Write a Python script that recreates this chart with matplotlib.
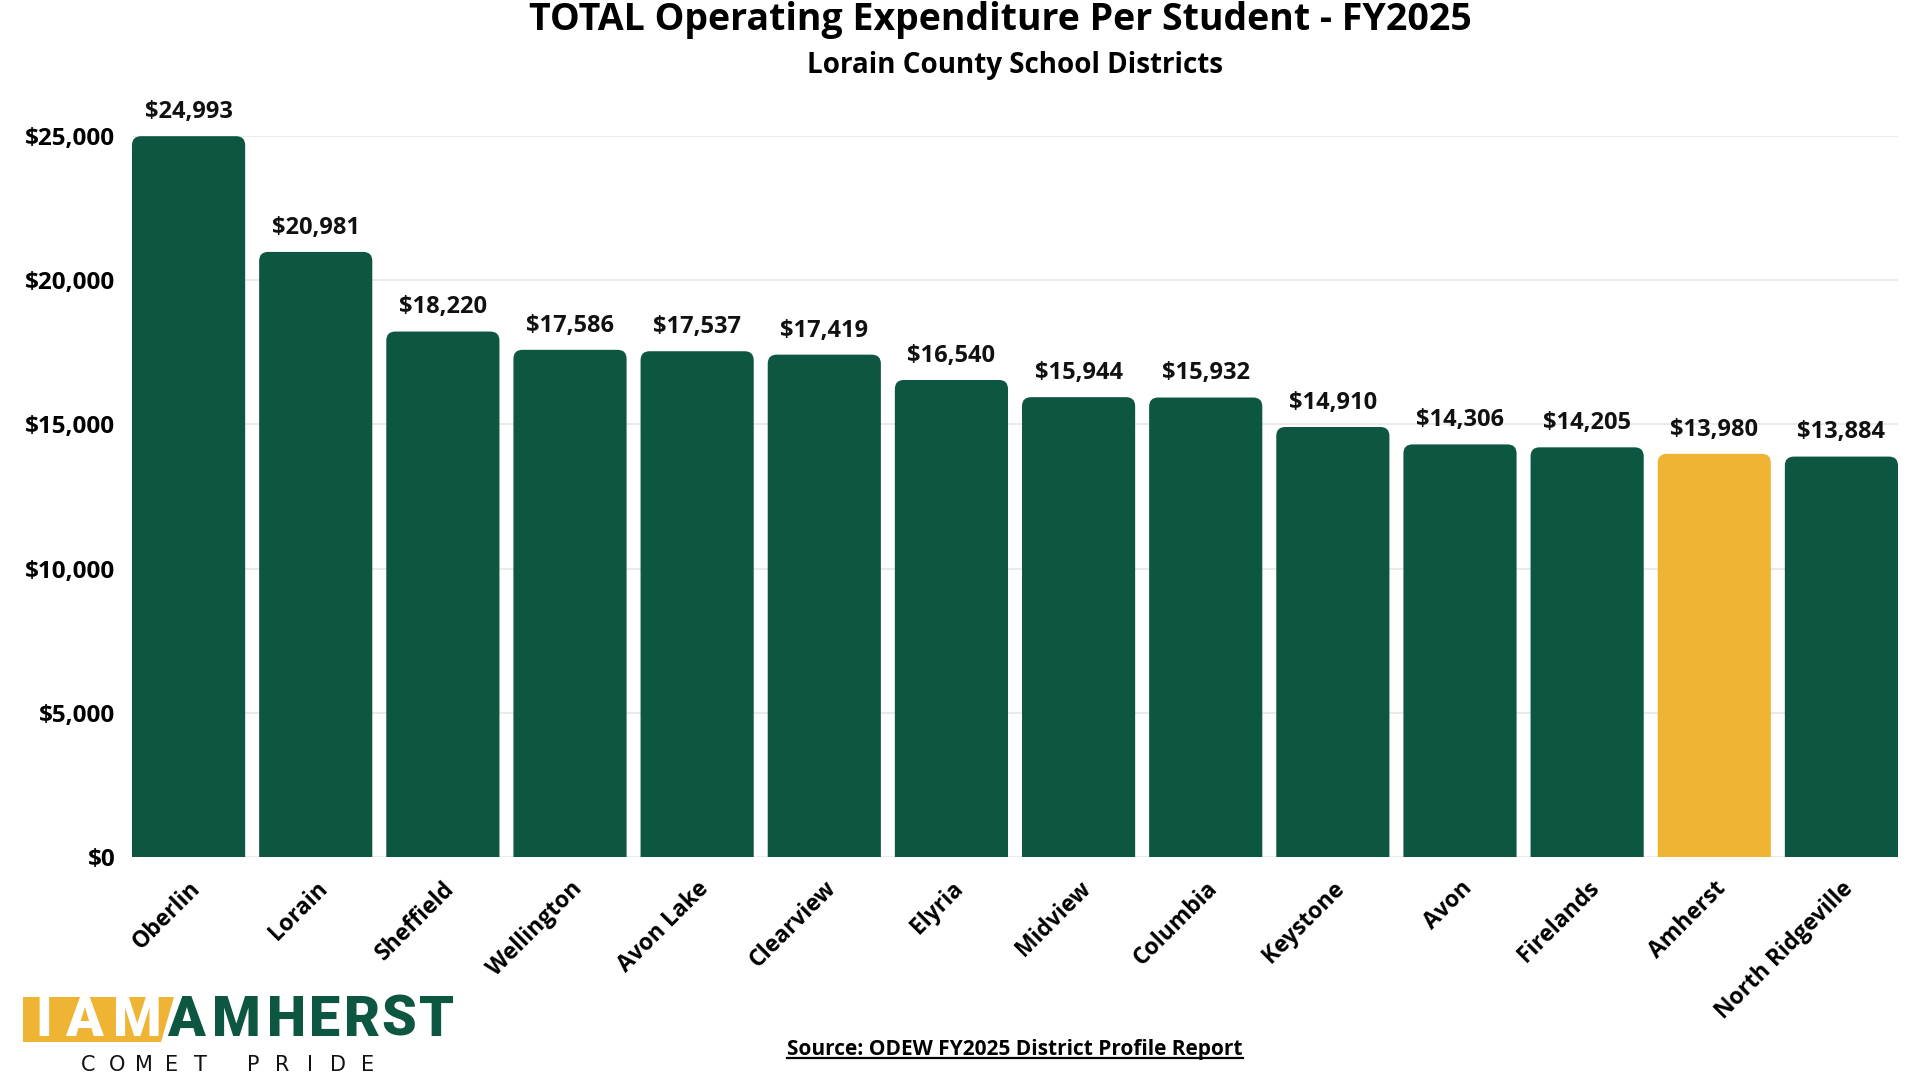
import matplotlib.pyplot as plt
from matplotlib.patches import FancyBboxPatch, Polygon
from matplotlib.ticker import FuncFormatter

districts = ['Oberlin', 'Lorain', 'Sheffield', 'Wellington', 'Avon Lake', 'Clearview', 'Elyria',
             'Midview', 'Columbia', 'Keystone', 'Avon', 'Firelands', 'Amherst', 'North Ridgeville']
spend = [24993, 20981, 18220, 17586, 17537, 17419, 16540, 15944, 15932, 14910, 14306, 14205, 13980, 13884]
highlight = 'Amherst'

green = '#0D5642'
gold = '#EFB434'
plt.rcParams['font.family'] = ['Open Sans', 'DejaVu Sans']

fig = plt.figure(figsize=(19.2, 10.8), dpi=100)
ax = fig.add_axes([132 / 1920, 1 - 857 / 1080, (1898 - 132) / 1920, (857 - 136) / 1080])

x = list(range(len(districts)))
w = 0.89
ax.set_xlim(-w / 2, len(districts) - 1 + w / 2)
ax.set_ylim(0, 25000)

# aspect of data units, so the corner rounding stays circular
px_x = ax.get_position().width * 1920 / (ax.get_xlim()[1] - ax.get_xlim()[0])
px_y = ax.get_position().height * 1080 / 25000
asp = px_x / px_y
r = 9 / px_x

for i, (d, v) in enumerate(zip(districts, spend)):
    c = gold if d == highlight else green
    p = FancyBboxPatch((i - w / 2, -2000), w, v + 2000,
                       boxstyle=f'round,pad=0,rounding_size={r}',
                       mutation_aspect=asp, fc=c, ec='none', zorder=3)
    ax.add_patch(p)
    ax.text(i, v + 420, f'${v:,}', ha='center', va='bottom', fontsize=17,
            fontweight='bold', color='#111111', zorder=4)

ax.set_yticks(range(0, 25001, 5000))
ax.yaxis.set_major_formatter(FuncFormatter(lambda val, pos: f'${int(val):,}'))
ax.grid(axis='y', color='#E6E6E6', linewidth=1.2, zorder=0)
ax.set_xticks(x)
ax.set_xticklabels(districts, rotation=45, ha='right', rotation_mode='anchor',
                   fontsize=16.5, fontweight='bold')
for lab in ax.get_yticklabels():
    lab.set_fontsize(17.5)
    lab.set_fontweight('bold')
ax.tick_params(length=0, pad=12)
ax.tick_params(axis='x', pad=14)
for s in ax.spines.values():
    s.set_visible(False)

fig.text(1000 / 1920, 1 - 20 / 1080, 'TOTAL Operating Expenditure Per Student - FY2025',
         ha='center', va='center', fontsize=27, fontweight='bold')
fig.text(1015 / 1920, 1 - 65 / 1080, 'Lorain County School Districts',
         ha='center', va='center', fontsize=20, fontweight='bold')

# source line, underlined
src = fig.text(1015 / 1920, 1 - 1050 / 1080, 'Source: ODEW FY2025 District Profile Report',
               ha='center', va='center', fontsize=15, fontweight='bold')
fig.canvas.draw()
bb = src.get_window_extent().transformed(fig.transFigure.inverted())
fig.add_artist(plt.Line2D([bb.x0, bb.x1], [bb.y0 + 0.002, bb.y0 + 0.002], color='black',
                          linewidth=1.6, transform=fig.transFigure))

# logo
def fx(px):
    return px / 1920

def fy(py):
    return 1 - py / 1080

fig.add_artist(Polygon([(fx(23), fy(997)), (fx(174), fy(997)), (fx(161), fy(1042)), (fx(23), fy(1042))],
                       closed=True, fc=gold, ec='none', transform=fig.transFigure))
for ch, cx in zip('IAM', [44, 84, 137]):
    fig.text(fx(cx), fy(1020), ch, ha='center', va='center', fontsize=40, fontweight='black',
             color='white', family=['Roboto', 'DejaVu Sans'])
for ch, cx in zip('AMHERST', [186, 236, 286, 325, 362, 399, 437]):
    fig.text(fx(cx), fy(1020), ch, ha='center', va='center', fontsize=40, fontweight='black',
             color=green, family=['Roboto', 'DejaVu Sans'])
for ch, cx in zip('COMETPRIDE', [88, 117, 144, 172, 200, 253, 282, 310, 338, 368]):
    fig.text(fx(cx), fy(1065), ch, ha='center', va='center', fontsize=15,
             color='#111111', family=['DejaVu Sans'])

fig.savefig('out.png', dpi=100, facecolor='white')
